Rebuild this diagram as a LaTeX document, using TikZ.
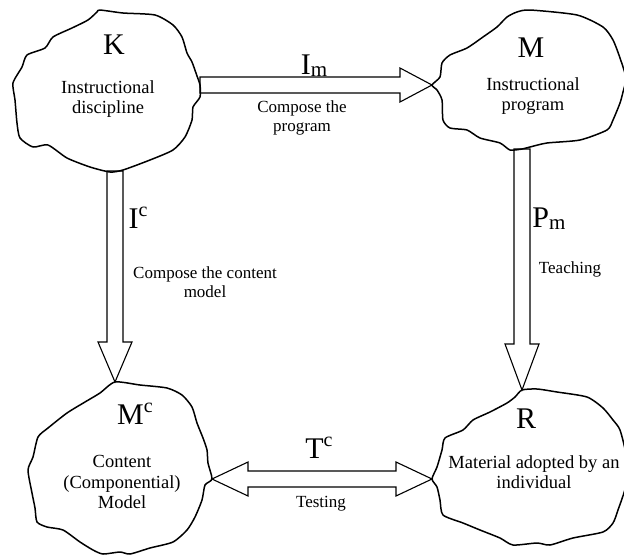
\documentclass[tikz,border=0pt]{standalone}
\usepackage{fontspec}
\setmainfont{Liberation Serif}
\usetikzlibrary{calc}

\newcommand\upidx[1]{\raisebox{12pt}{\fontsize{20}{20}\selectfont #1}}
\newcommand\lowidx[1]{\raisebox{-2.5pt}{\fontsize{21}{21}\selectfont #1}}

% hollow block arrow: [head length]{tail}{tip}
\newcommand\blockarrow[3][36]{%
  \draw[hollowarrow] let \p1=(#2), \p2=(#3), \n1={atan2(\y2-\y1,\x2-\x1)} in
    ($(\p1)+(\n1+90:8pt)$) -- ($(\p2)+(\n1+180:#1pt)+(\n1+90:8pt)$)
    -- ($(\p2)+(\n1+180:#1pt)+(\n1+90:17pt)$) -- (\p2)
    -- ($(\p2)+(\n1+180:#1pt)+(\n1-90:17pt)$) -- ($(\p2)+(\n1+180:#1pt)+(\n1-90:8pt)$)
    -- ($(\p1)+(\n1-90:8pt)$) -- cycle;}
% same with a head at both ends
\newcommand\dblockarrow[3][36]{%
  \draw[hollowarrow] let \p1=(#2), \p2=(#3), \n1={atan2(\y2-\y1,\x2-\x1)} in
    (\p1) -- ($(\p1)+(\n1:#1pt)+(\n1+90:17pt)$) -- ($(\p1)+(\n1:#1pt)+(\n1+90:8pt)$)
    -- ($(\p2)+(\n1+180:#1pt)+(\n1+90:8pt)$) -- ($(\p2)+(\n1+180:#1pt)+(\n1+90:17pt)$) -- (\p2)
    -- ($(\p2)+(\n1+180:#1pt)+(\n1-90:17pt)$) -- ($(\p2)+(\n1+180:#1pt)+(\n1-90:8pt)$)
    -- ($(\p1)+(\n1:#1pt)+(\n1-90:8pt)$) -- ($(\p1)+(\n1:#1pt)+(\n1-90:17pt)$) -- cycle;}

\tikzset{
  blobline/.style={line width=1.5pt, line join=round},
  hollowarrow/.style={line width=1.1pt, line join=miter},
  bigletter/.style={font=\fontsize{30}{30}\selectfont, inner sep=0pt, anchor=base},
  blobtext/.style={font=\fontsize{18.5}{20.5}\selectfont, align=center, inner sep=0pt},
  armtext/.style={font=\fontsize{17}{18.5}\selectfont, align=center, inner sep=0pt},
}

\begin{document}
\begin{tikzpicture}[x=1pt,y=-1pt]
  \useasboundingbox (0,0) rectangle (624,557);

  % blobs
  \draw[blobline] plot[smooth cycle, tension=0.4] coordinates {
    (100,10) (123,13) (155,15) (173,25) (182,37) (187,53) (192,62) (197,76)
    (200,85) (200,97) (193,107) (192,120) (185,137) (173,150) (150,160) (123,170)
    (110,172) (90,167) (67,158) (48,145) (33,147) (20,138) (17,123) (15,100)
    (13,83) (22,67) (27,55) (45,48) (53,37) (72,28) (88,20) (97,12)};
  \draw[blobline] plot[smooth cycle, tension=0.4] coordinates {
    (517,12) (530,10) (577,15) (603,27) (613,40) (620,58) (626,78) (623,92)
    (620,103) (613,120) (607,130) (580,140) (547,143) (530,147) (522,149) (510,150)
    (500,143) (480,138) (467,130) (450,128) (443,120) (442,100) (437,90) (432,85)
    (440,77) (442,63) (450,55) (467,48) (483,37) (497,27) (507,17)};
  \draw[blobline] plot[smooth cycle, tension=0.4] coordinates {
    (115,382) (140,385) (167,388) (182,395) (192,407) (197,423) (203,438) (207,450)
    (208,463) (212,479) (205,485) (202,500) (195,517) (187,530) (173,542) (150,548)
    (130,554) (120,552) (103,554) (93,550) (80,542) (63,530) (47,527) (37,522)
    (35,508) (32,493) (28,470) (33,457) (38,437) (48,428) (67,413) (85,402) (100,393)};
  \draw[blobline] plot[smooth cycle, tension=0.4] coordinates {
    (522,390) (537,389) (557,392) (587,397) (603,408) (613,420) (620,430) (626,455)
    (626,485) (618,510) (613,523) (603,532) (573,538) (550,545) (537,543) (513,545)
    (500,538) (480,530) (463,523) (443,515) (440,500) (437,487) (432,479) (437,467)
    (442,450) (445,438) (463,430) (473,420) (490,412) (507,403) (515,397)};

  % blob contents
  \node[bigletter] (K) at (114,54) {K};
  \node[blobtext] (K-txt) at (108,99) {Instructional\\discipline};
  \node[bigletter] (M) at (531,57) {M};
  \node[blobtext] (M-txt) at (533,96) {Instructional\\program};
  \node[bigletter] (Mc) at (135,424) {M\upidx{c}};
  \node[blobtext] (Mc-txt) at (122,482) {Content\\(Componential)\\Model};
  \node[bigletter] (R) at (526,428) {R};
  \node[blobtext] (R-txt) at (534,472) {Material adopted by an\\individual};

  % arrow ends on the blob contours
  \coordinate (K-east) at (200,85);
  \coordinate (K-south) at (115,171);
  \coordinate (M-west) at (432,85);
  \coordinate (M-south) at (522,149);
  \coordinate (Mc-north) at (115,382);
  \coordinate (Mc-east) at (212,479);
  \coordinate (R-north) at (522,390);
  \coordinate (R-west) at (432,479);

  % arrows
  \blockarrow[32]{K-east}{M-west}
  \blockarrow[40]{K-south}{Mc-north}
  \blockarrow[46]{M-south}{R-north}
  \dblockarrow[36]{Mc-east}{R-west}

  % arrow labels
  \node[bigletter] (Im) at (314,74) {I\lowidx{m}};
  \node[armtext] (Im-txt) at (302,118) {Compose the\\program};
  \node[bigletter] (Ic) at (138,228) {I\upidx{c}};
  \node[armtext] (Ic-txt) at (205,282) {Compose the content\\model};
  \node[bigletter] (Pm) at (549,227) {P\lowidx{m}};
  \node[armtext, anchor=base] (Pm-txt) at (570,273) {Teaching};
  \node[bigletter] (Tc) at (319,458) {T\upidx{c}};
  \node[armtext, anchor=base] (Tc-txt) at (321,507) {Testing};
\end{tikzpicture}
\end{document}
